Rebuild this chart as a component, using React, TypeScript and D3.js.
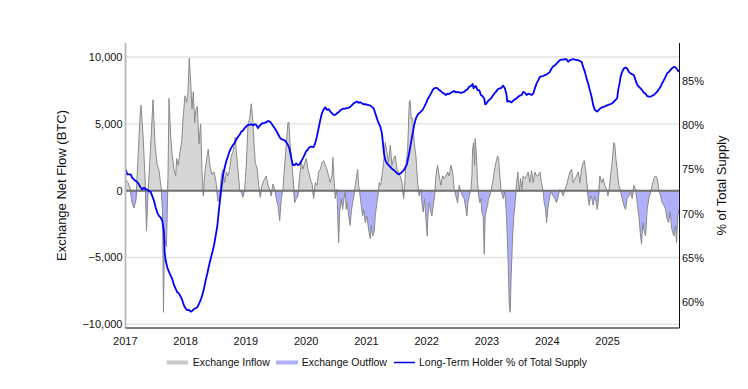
import React from "react";
import * as d3 from "d3";

// ---- DATA ----
const yearTicks = [2017, 2018, 2019, 2020, 2021, 2022, 2023, 2024, 2025];
const flowTicks = [-10000, -5000, 0, 5000, 10000];
const pctTicks = [60, 65, 70, 75, 80, 85];
const legendLabels = ["Exchange Inflow", "Exchange Outflow", "Long-Term Holder % of Total Supply"];
const leftTitle = "Exchange Net Flow (BTC)";
const rightTitle = "% of Total Supply";

// [decimal year, BTC]
const flowSeries: [number, number][] = [
[2017.012,800],[2017.045,600],[2017.078,200],[2017.111,-900],[2017.144,-1300],[2017.177,-700],[2017.211,2500],[2017.244,5500],[2017.260,6400],[2017.294,4200],[2017.327,1000],[2017.352,-3000],[2017.376,-300],[2017.410,2500],[2017.434,4500],[2017.459,6800],[2017.493,3500],[2017.526,2000],[2017.559,1500],[2017.592,300],[2017.617,-1500],[2017.633,-9100],[2017.650,-3500],[2017.683,-4200],[2017.708,1000],[2017.725,6900],[2017.753,4100],[2017.779,2600],[2017.808,1600],[2017.836,1100],[2017.852,2400],[2017.879,1900],[2017.907,2900],[2017.935,3600],[2017.962,5600],[2017.990,7100],[2018.018,6600],[2018.040,7400],[2018.061,9900],[2018.085,8100],[2018.106,6100],[2018.128,7400],[2018.151,5100],[2018.172,6100],[2018.194,6300],[2018.222,3500],[2018.250,5000],[2018.272,1500],[2018.294,-400],[2018.322,1500],[2018.355,2500],[2018.376,3100],[2018.405,1800],[2018.438,1200],[2018.471,1400],[2018.504,700],[2018.537,-800],
[2018.566,-600],[2018.592,1100],[2018.620,1600],[2018.648,600],[2018.675,1400],[2018.703,1100],[2018.731,1600],[2018.758,2600],[2018.786,2900],[2018.824,4000],[2018.841,2900],[2018.869,1600],[2018.897,100],[2018.924,-100],[2018.952,-500],[2018.980,100],[2019.007,1900],[2019.035,4900],[2019.063,5400],[2019.090,6500],[2019.118,5100],[2019.134,3600],[2019.156,2100],[2019.189,1600],[2019.212,400],[2019.239,-500],[2019.267,400],[2019.312,900],[2019.338,1100],[2019.367,400],[2019.395,100],[2019.421,-400],[2019.449,500],[2019.478,100],[2019.504,-600],[2019.532,-1100],[2019.561,-2250],[2019.587,-600],[2019.615,100],[2019.643,1900],[2019.670,3400],[2019.698,5100],[2019.715,5100],[2019.731,3600],[2019.753,2600],[2019.781,1100],[2019.809,-900],[2019.836,-600],[2019.864,-400],[2019.892,1100],[2019.919,2100],[2019.947,1600],[2019.975,2100],[2020.002,2400],[2020.030,1600],[2020.058,1100],[2020.085,600],[2020.096,600],[2020.124,-600],[2020.151,600],[2020.179,400],[2020.207,1400],[2020.234,1600],[2020.262,2100],[2020.290,2250],[2020.317,1900],[2020.345,1600],[2020.373,1100],[2020.400,600],[2020.428,1100],[2020.444,2500],[2020.466,600],[2020.483,-600],[2020.511,100],[2020.527,-2400],[2020.539,-3900],[2020.556,-1600],[2020.582,-600],[2020.605,-1400],[2020.627,-600],[2020.648,-100],[2020.665,-1400],[2020.682,-900],[2020.705,-1900],[2020.731,-2600],[2020.748,-1600],[2020.771,-900],[2020.793,-400],[2020.814,400],[2020.831,900],[2020.854,1600],[2020.871,400],[2020.887,-100],[2020.914,-1100],[2020.937,-1900],[2020.954,-1400],[2020.980,-2400],[2021.008,-1900],[2021.036,-2900],[2021.063,-3600],[2021.080,-2600],[2021.103,-3400],[2021.129,-3100],[2021.146,-1900],[2021.174,-900],[2021.191,-400],[2021.212,600],[2021.235,400],[2021.257,1100],[2021.285,2100],[2021.312,3600],[2021.340,2900],[2021.368,2100],[2021.395,3400],[2021.423,1900],[2021.451,2400],[2021.478,2600],[2021.506,1600],[2021.534,1400],[2021.561,1100],[2021.589,600],[2021.617,-600],[2021.643,1100],[2021.653,1900],[2021.683,2900],[2021.710,6600],[2021.726,6750],[2021.743,5400],[2021.766,5400],[2021.793,3600],[2021.821,2600],[2021.849,600],[2021.876,-400],[2021.904,100],[2021.920,-900],[2021.942,-1600],[2021.965,-600],[2021.987,-2100],[2022.008,-3400],[2022.020,-1900],[2022.041,-900],[2022.070,-1600],[2022.086,-1900],[2022.108,-1100],[2022.131,-400],[2022.153,1100],[2022.180,1900],[2022.207,1100],[2022.235,400],[2022.264,1100],[2022.290,900],[2022.318,1100],[2022.347,1400],[2022.373,1100],[2022.401,1900],[2022.430,1400],[2022.456,100],[2022.484,-400],[2022.512,-900],[2022.539,400],[2022.567,-100],[2022.595,-400],[2022.622,-600],[2022.650,-1400],[2022.667,-1900],[2022.683,-900],[2022.705,-400],[2022.733,100],[2022.750,1100],[2022.761,3100],[2022.778,3600],[2022.794,1900],[2022.804,3900],[2022.821,2900],[2022.844,600],[2022.861,-400],[2022.882,-900],[2022.899,-600],[2022.915,-1600],[2022.937,-1900],[2022.954,-4750],[2022.970,-1900],[2022.993,-1400],[2023.010,-1100],[2023.026,-600],[2023.048,-400],[2023.070,100],[2023.093,600],[2023.119,1400],[2023.148,2100],[2023.176,2600],[2023.192,2400],[2023.214,1100],[2023.231,100],[2023.242,-100],[2023.269,-600],[2023.297,-100],[2023.325,-1900],[2023.351,-5400],[2023.368,-8400],[2023.385,-9100],[2023.401,-6400],[2023.425,-3400],[2023.446,-1900],[2023.468,-900],[2023.491,600],[2023.512,1400],[2023.534,-100],[2023.557,900],[2023.579,100],[2023.600,1100],[2023.629,900],[2023.657,1100],[2023.683,1400],[2023.711,600],[2023.740,1500],[2023.766,600],[2023.794,1400],[2023.823,1100],[2023.849,1100],[2023.877,1400],[2023.905,600],[2023.932,-100],[2023.949,-900],[2023.972,-1400],[2023.988,-2400],[2024.015,-1100],[2024.043,-400],[2024.071,-100],[2024.098,-400],[2024.126,-600],[2024.154,-900],[2024.181,-400],[2024.208,100],[2024.237,-100],[2024.264,-400],[2024.292,100],[2024.320,400],[2024.347,900],[2024.375,1400],[2024.403,1600],[2024.430,600],[2024.458,900],[2024.486,1100],[2024.512,1400],[2024.541,600],[2024.569,1600],[2024.595,2100],[2024.612,2250],[2024.635,1600],[2024.657,600],[2024.678,-600],[2024.695,-1100],[2024.718,-400],[2024.740,-600],[2024.761,-1100],[2024.785,-400],[2024.801,-600],[2024.828,-1400],[2024.844,-900],[2024.872,1100],[2024.900,600],[2024.927,900],[2024.955,400],[2024.983,100],[2025.005,-400],[2025.026,100],[2025.050,1100],[2025.076,2100],[2025.104,3600],[2025.121,3400],[2025.138,2400],[2025.159,1600],[2025.187,400],[2025.216,0],[2025.242,-600],[2025.270,-1100],[2025.299,-1400],[2025.325,-600],[2025.353,-400],[2025.381,-100],[2025.408,-600],[2025.436,400],[2025.464,100],[2025.491,-900],[2025.519,-1900],[2025.547,-3400],[2025.564,-4000],[2025.585,-2400],[2025.602,-2900],[2025.630,-3400],[2025.657,-1400],[2025.685,-600],[2025.713,-100],[2025.740,400],[2025.768,900],[2025.796,1100],[2025.823,900],[2025.851,100],[2025.879,-400],[2025.905,-900],[2025.934,-1100],[2025.962,-1400],[2025.988,-2100],[2026.012,-2400],[2026.038,-1600],[2026.066,-2900],[2026.100,-3400],[2026.128,-2600],[2026.144,-3900],[2026.166,-1900],[2026.182,-1400]
];

// [decimal year, % of total supply]
const lthSeries: [number, number][] = [
[2017.007,75.0],[2017.033,74.45],[2017.090,74.45],[2017.116,74.07],[2017.144,73.88],[2017.172,73.7],[2017.199,73.6],[2017.227,73.3],[2017.255,72.95],[2017.282,72.76],[2017.310,72.95],[2017.338,72.76],[2017.365,72.76],[2017.393,72.57],[2017.421,72.45],[2017.448,72.0],[2017.476,71.45],[2017.504,70.7],[2017.531,70.1],[2017.559,69.76],[2017.587,69.57],[2017.614,69.2],[2017.642,67.9],[2017.653,65.6],[2017.670,64.7],[2017.697,63.9],[2017.725,63.4],[2017.753,63.0],[2017.779,62.6],[2017.808,61.9],[2017.836,61.5],[2017.862,61.1],[2017.891,60.95],[2017.919,60.6],[2017.945,60.2],[2017.973,59.6],[2018.002,59.26],[2018.028,59.07],[2018.056,59.1],[2018.085,58.9],[2018.111,59.0],[2018.139,59.2],[2018.167,59.3],[2018.194,59.4],[2018.222,59.8],[2018.250,60.2],[2018.277,60.8],[2018.305,61.5],[2018.333,62.45],[2018.360,63.2],[2018.388,64.1],[2018.416,64.9],[2018.443,65.6],[2018.471,66.4],[2018.499,67.5],[2018.526,68.6],[2018.554,70.5],[2018.592,72.8],[2018.620,74.3],[2018.648,75.2],[2018.675,75.95],[2018.703,76.5],[2018.731,77.1],[2018.758,77.45],[2018.786,77.8],[2018.814,78.0],[2018.841,78.4],[2018.869,78.7],[2018.897,78.95],[2018.924,79.3],[2018.952,79.4],[2018.980,79.7],[2019.007,79.9],[2019.035,80.07],[2019.063,80.07],[2019.090,80.15],[2019.118,80.0],[2019.146,80.15],[2019.172,80.07],[2019.201,79.7],[2019.229,79.96],[2019.255,80.15],[2019.284,80.26],[2019.312,80.3],[2019.338,80.37],[2019.367,80.5],[2019.395,80.45],[2019.421,80.26],[2019.449,79.96],[2019.478,79.7],[2019.504,79.4],[2019.532,79.06],[2019.561,78.65],[2019.587,78.46],[2019.615,78.4],[2019.643,78.3],[2019.670,78.1],[2019.698,77.8],[2019.726,77.3],[2019.753,76.3],[2019.781,75.5],[2019.809,75.5],[2019.836,75.7],[2019.864,75.5],[2019.892,75.6],[2019.919,75.95],[2019.947,76.3],[2019.975,76.7],[2020.002,77.1],[2020.030,77.3],[2020.058,77.55],[2020.085,77.6],[2020.124,77.55],[2020.151,78.0],[2020.179,78.76],[2020.207,79.7],[2020.234,80.6],[2020.262,81.4],[2020.290,81.8],[2020.317,82.06],[2020.345,81.76],[2020.373,81.85],[2020.400,81.57],[2020.428,81.38],[2020.456,81.2],[2020.483,81.2],[2020.511,81.38],[2020.539,81.5],[2020.565,81.7],[2020.594,81.85],[2020.622,81.9],[2020.648,81.9],[2020.677,81.97],[2020.705,82.0],[2020.731,82.1],[2020.760,82.3],[2020.788,82.5],[2020.814,82.6],[2020.842,82.7],[2020.871,82.56],[2020.897,82.64],[2020.925,82.5],[2020.954,82.4],[2020.980,82.4],[2021.008,82.36],[2021.036,82.3],[2021.063,82.25],[2021.091,82.1],[2021.119,81.95],[2021.146,81.4],[2021.174,80.8],[2021.202,80.26],[2021.229,79.9],[2021.257,79.1],[2021.274,78.0],[2021.290,76.9],[2021.312,76.1],[2021.340,75.7],[2021.368,75.5],[2021.395,75.3],[2021.423,75.1],[2021.451,74.96],[2021.478,74.8],[2021.506,74.6],[2021.534,74.45],[2021.561,74.56],[2021.589,74.7],[2021.617,74.9],[2021.643,75.2],[2021.672,75.6],[2021.710,76.9],[2021.738,78.0],[2021.766,79.1],[2021.793,80.07],[2021.821,80.8],[2021.849,81.2],[2021.876,81.4],[2021.904,81.57],[2021.932,81.76],[2021.959,82.1],[2021.987,82.5],[2022.015,82.96],[2022.041,83.26],[2022.070,83.6],[2022.098,84.0],[2022.124,84.2],[2022.153,84.27],[2022.180,84.2],[2022.207,84.0],[2022.235,83.9],[2022.264,83.7],[2022.290,83.6],[2022.318,83.45],[2022.347,83.6],[2022.373,83.56],[2022.401,83.7],[2022.430,83.8],[2022.456,83.9],[2022.484,83.75],[2022.512,83.8],[2022.539,83.75],[2022.567,83.7],[2022.595,83.75],[2022.622,83.8],[2022.650,84.0],[2022.678,84.1],[2022.705,84.4],[2022.733,84.45],[2022.761,84.7],[2022.778,84.2],[2022.794,84.4],[2022.816,84.45],[2022.844,84.0],[2022.871,84.0],[2022.899,83.45],[2022.927,83.3],[2022.954,83.06],[2022.970,82.4],[2022.993,82.5],[2023.010,82.7],[2023.036,82.9],[2023.065,83.06],[2023.093,83.33],[2023.119,83.6],[2023.148,83.8],[2023.176,84.07],[2023.202,84.2],[2023.230,84.2],[2023.269,84.5],[2023.297,84.2],[2023.325,83.45],[2023.335,82.7],[2023.351,82.8],[2023.380,82.7],[2023.408,82.6],[2023.434,82.8],[2023.463,82.96],[2023.491,83.06],[2023.517,83.26],[2023.546,83.37],[2023.574,83.45],[2023.600,83.8],[2023.629,83.7],[2023.657,83.45],[2023.683,83.6],[2023.711,83.56],[2023.740,83.45],[2023.766,83.6],[2023.794,84.2],[2023.823,84.76],[2023.849,85.1],[2023.877,85.5],[2023.905,85.55],[2023.932,85.6],[2023.960,85.7],[2023.988,85.77],[2024.015,85.9],[2024.043,86.07],[2024.071,86.45],[2024.098,86.7],[2024.126,86.8],[2024.154,87.0],[2024.181,87.2],[2024.208,87.4],[2024.237,87.45],[2024.264,87.45],[2024.292,87.5],[2024.320,87.5],[2024.347,87.2],[2024.375,87.4],[2024.403,87.45],[2024.430,87.5],[2024.458,87.45],[2024.486,87.4],[2024.512,87.4],[2024.541,87.3],[2024.569,87.2],[2024.595,86.6],[2024.624,86.07],[2024.652,85.3],[2024.678,84.76],[2024.706,84.0],[2024.735,83.26],[2024.761,82.3],[2024.790,81.76],[2024.828,81.57],[2024.856,81.76],[2024.884,81.95],[2024.910,82.06],[2024.939,82.1],[2024.967,82.2],[2024.993,82.28],[2025.022,82.36],[2025.050,82.43],[2025.076,82.5],[2025.104,82.7],[2025.133,82.9],[2025.159,83.06],[2025.176,84.0],[2025.199,84.76],[2025.216,85.5],[2025.242,86.07],[2025.270,86.45],[2025.299,86.57],[2025.325,86.45],[2025.353,86.07],[2025.381,85.9],[2025.408,85.8],[2025.436,85.7],[2025.464,85.14],[2025.491,84.6],[2025.519,84.38],[2025.547,84.2],[2025.574,84.0],[2025.602,83.7],[2025.630,83.6],[2025.657,83.33],[2025.685,83.26],[2025.713,83.26],[2025.740,83.37],[2025.768,83.45],[2025.796,83.64],[2025.823,83.82],[2025.851,84.1],[2025.879,84.38],[2025.905,84.76],[2025.934,85.14],[2025.962,85.5],[2025.988,85.9],[2026.017,86.07],[2026.038,86.26],[2026.066,86.45],[2026.100,86.63],[2026.128,86.57],[2026.154,86.33],[2026.182,86.07]
];

// ---- LAYOUT ----
const W = 748, H = 389;
const LEFT = 125.5, RIGHT = 679.5, TOP = 43, BOTTOM = 328;
const FONT = "'Liberation Sans', Arial, sans-serif";

export default function App() {
  const x = d3.scaleLinear().domain([2017, 2026.19]).range([125.3, 679.3]);
  const yL = d3.scaleLinear().domain([-10000, 10000]).range([324.3, 57]);
  const yR = d3.scaleLinear().domain([60, 85]).range([302, 81.3]);

  const inflowArea = d3.area<[number, number]>()
    .x(d => x(d[0])).y0(yL(0)).y1(d => yL(Math.max(0, d[1])));
  const outflowArea = d3.area<[number, number]>()
    .x(d => x(d[0])).y0(yL(0)).y1(d => yL(Math.min(0, d[1])));
  const flowLine = d3.line<[number, number]>().x(d => x(d[0])).y(d => yL(d[1]));
  const lthLine = d3.line<[number, number]>().x(d => x(d[0])).y(d => yR(d[1]));

  const fmt = (v: number) => (v < 0 ? "\u2212" : "") + d3.format(",")(Math.abs(v));

  const legendY = 362.5;

  return (
    <svg width={W} height={H} style={{ position: "absolute", left: 0, top: 0, background: "#fff" }}
      fontFamily={FONT}>
      {/* gridlines */}
      {flowTicks.filter(t => t !== 0).map(t => (
        <line key={"g" + t} x1={LEFT} x2={RIGHT} y1={yL(t)} y2={yL(t)} stroke="#e3e3e3" strokeWidth={1.4} />
      ))}
      {/* areas */}
      <path d={inflowArea(flowSeries) || ""} fill="#d6d6d6" />
      <path d={outflowArea(flowSeries) || ""} fill="#b0b0fa" />
      <path d={flowLine(flowSeries) || ""} fill="none" stroke="#8a8a8a" strokeWidth={1} strokeLinejoin="round" />
      {/* zero line */}
      <line x1={LEFT} x2={RIGHT} y1={yL(0)} y2={yL(0)} stroke="#6e6e6e" strokeWidth={2} />
      {/* LTH line */}
      <path d={lthLine(lthSeries) || ""} fill="none" stroke="#0000ff" strokeWidth={1.8} strokeLinejoin="round" />
      {/* axes */}
      <line x1={LEFT} x2={LEFT} y1={TOP} y2={BOTTOM} stroke="#b8b8b8" strokeWidth={1.8} />
      <line x1={LEFT} x2={RIGHT} y1={BOTTOM} y2={BOTTOM} stroke="#555" strokeWidth={1.5} />
      <line x1={RIGHT} x2={RIGHT} y1={TOP} y2={BOTTOM} stroke="#111" strokeWidth={1} />
      {/* left ticks */}
      {flowTicks.map(t => (
        <text key={"l" + t} x={122.5} y={yL(t)} dy="0.35em" textAnchor="end" fontSize={11} fill="#111">{fmt(t)}</text>
      ))}
      {/* right ticks */}
      {pctTicks.map(t => (
        <text key={"r" + t} x={682} y={yR(t)} dy="0.35em" textAnchor="start" fontSize={11} fill="#111">{t + "%"}</text>
      ))}
      {/* x ticks */}
      {yearTicks.map(t => (
        <text key={"x" + t} x={x(t)} y={340.7} dy="0.35em" textAnchor="middle" fontSize={11} fill="#111">{t}</text>
      ))}
      {/* titles */}
      <text transform={`translate(61.7,${(TOP + BOTTOM) / 2}) rotate(-90)`} textAnchor="middle" dy="0.35em" fontSize={13} fill="#111">{leftTitle}</text>
      <text transform={`translate(721.7,${(TOP + BOTTOM) / 2}) rotate(-90)`} textAnchor="middle" dy="0.35em" fontSize={13} fill="#111">{rightTitle}</text>
      {/* legend */}
      <rect x={166.7} y={legendY - 2} width={21.3} height={4} fill="#c9c9c9" />
      <text x={192.7} y={legendY} dy="0.35em" fontSize={10.5} fill="#111">{legendLabels[0]}</text>
      <rect x={276} y={legendY - 2} width={22} height={4} fill="#b0b0f6" />
      <text x={301.7} y={legendY} dy="0.35em" fontSize={10.5} fill="#111">{legendLabels[1]}</text>
      <line x1={394} x2={415} y1={legendY} y2={legendY} stroke="#0000ff" strokeWidth={1.5} />
      <text x={419} y={legendY} dy="0.35em" fontSize={10.5} fill="#111">{legendLabels[2]}</text>
    </svg>
  );
}
